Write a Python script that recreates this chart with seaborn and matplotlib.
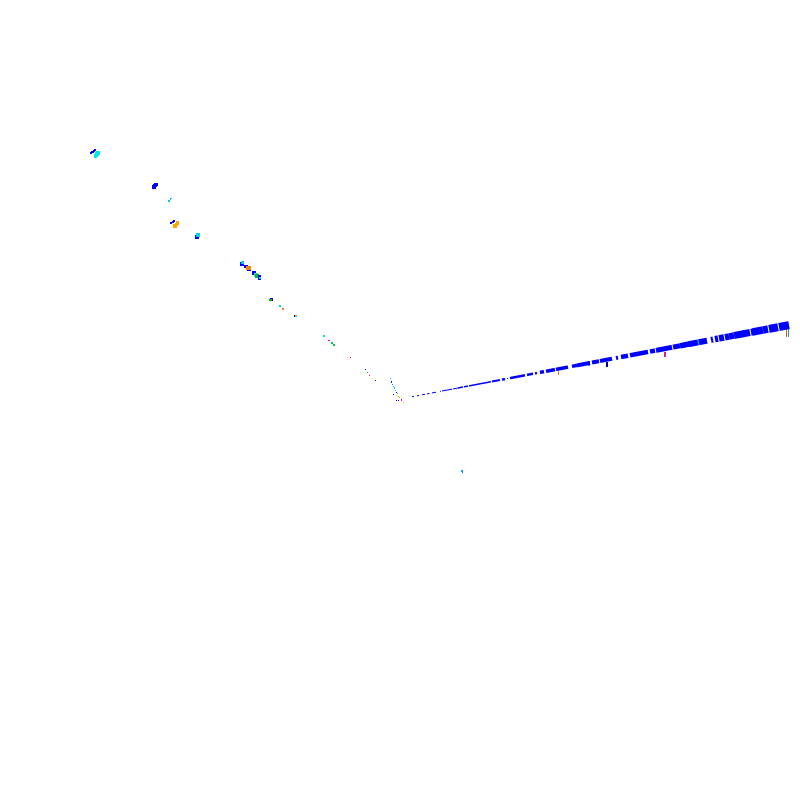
import matplotlib
matplotlib.use("Agg")
import matplotlib.pyplot as plt
import pandas as pd
import seaborn as sns

BLUE = "#0000ff"

# long blue arm, read block by block (start, end, thickness in px)
seg_x0 = [412, 417, 422, 427, 432, 440, 442, 446, 453,
          457.5, 464, 469, 477, 482, 486, 492,
          502, 507, 510, 517, 527, 535,
          540, 546, 556, 572, 577, 592, 600, 616,
          621, 630, 650, 656, 673, 680, 684, 689, 699, 711,
          715, 719, 725, 729, 734, 739, 743, 751, 753, 763, 769, 779]
seg_x1 = [414, 419, 425, 429.5, 436, 441, 446, 452, 457,
          463, 468, 477, 482, 486, 491, 500,
          505, 508, 517, 525, 533, 537,
          544, 555, 568, 577, 590, 599, 612, 618,
          628, 648, 655, 672, 680, 685, 691, 698, 707, 713,
          718, 724, 729, 734, 740, 745, 750, 756, 763, 768, 778, 789]
seg_y0 = [396.7, 395.8, 394.8, 393.9, 392.9, 391.4, 391.0, 390.3, 388.9,
          388.1, 386.8, 385.9, 384.4, 383.4, 382.7, 381.5,
          379.6, 378.7, 378.1, 376.8, 374.9, 373.4,
          372.4, 371.3, 369.4, 366.3, 365.4, 362.5, 361.0, 358.0,
          357.0, 355.3, 351.5, 350.4, 347.1, 345.8, 345.0, 344.1, 342.2, 339.9,
          339.2, 338.4, 337.3, 336.5, 335.5, 334.6, 333.8, 332.3, 331.9, 330.0, 328.9, 327.0]
seg_y1 = [396.3, 395.4, 394.3, 393.4, 392.2, 391.2, 390.3, 389.1, 388.2,
          387.0, 386.1, 384.4, 383.4, 382.7, 381.7, 380.0,
          379.1, 378.5, 376.8, 375.3, 373.7, 373.0,
          371.6, 369.6, 367.1, 365.4, 362.9, 361.2, 358.7, 357.6,
          355.7, 351.9, 350.6, 347.3, 345.8, 344.9, 343.7, 342.4, 340.7, 339.5,
          338.6, 337.4, 336.5, 335.5, 334.4, 333.5, 332.5, 331.4, 330.0, 329.1, 327.2, 325.1]
seg_h = [1, 1, 1, 1, 1, 1, 1, 1, 1,
         1.5, 1.5, 1.5, 1.5, 1.5, 1.5, 2,
         2.5, 1, 2.5, 2.5, 2.5, 2.5,
         3.5, 3.5, 3.5, 3.5, 4, 4, 4, 4,
         4.5, 4.5, 4.5, 5, 5, 5.5, 5.5, 6, 6, 6,
         6.5, 6.5, 6.5, 6.5, 7, 7, 7, 7, 7.5, 7.5, 8, 8]

# small coloured marks on the left arm and around the vertex
pts_x = [91, 92, 93, 94, 95, 96, 97, 98, 95.5, 154, 155, 156, 169, 170.5, 171,
         171, 172.5, 174, 175, 176.5, 177.5, 197, 198,
         242, 242.5, 246, 249, 248.5, 253.5, 255, 256, 257, 259, 259.5, 260,
         271, 270.5, 280, 283, 295, 296, 296,
         324, 329, 332, 334, 350, 365, 367.5, 369, 372.5, 375.5,
         390.5, 391.5, 391.5, 392, 393, 394, 394.5, 395, 396, 393.5, 397, 398, 399,
         401.5, 401, 403, 396.5, 398, 462, 462.5]
pts_y = [153, 152.2, 151.5, 150.8, 150, 155.5, 154, 153, 156, 187, 185.5, 184.5, 201, 199.5, 198.5,
         222.5, 221.5, 220.5, 226, 224.5, 223, 236.5, 235,
         264, 262.5, 266.5, 269, 268, 272.5, 274, 275, 276, 276, 278, 278,
         299.5, 300, 306, 308.5, 315.5, 316, 316.5,
         336, 340.5, 343, 345, 357, 369, 372, 375.5, 378.5, 380.5,
         378.5, 381, 382, 384, 386, 388, 387, 390, 392.5, 394, 393.5, 396, 397,
         399, 400.5, 402, 400.5, 400.5, 471, 472]
pts_d = [2, 2, 2, 2, 2, 3.5, 3.5, 3.5, 3.5, 3.5, 3.5, 3.5, 1.5, 1.5, 1.5,
         2, 2, 2, 3.5, 3.5, 3.5, 4, 4,
         3.5, 2.5, 3.5, 3.5, 4.5, 4, 3, 3.5, 3.5, 3, 3, 2.5,
         3, 2.5, 2, 2, 2, 1.5, 1.5,
         1.5, 1.5, 1.5, 1.5, 1, 1, 1, 1, 1, 1,
         1, 1, 1, 1, 1, 1, 1, 1, 1, 1, 1, 1, 1,
         1, 1, 1, 1, 1, 2, 1.5]
pts_c = [BLUE, BLUE, BLUE, BLUE, BLUE, "#00e5ee", "#00e5ee", "#00e5ee", "#00e5ee", BLUE, BLUE, BLUE,
         "#00c8ff", "#00c8ff", "#00c8ff",
         BLUE, BLUE, BLUE, "#ffa500", "#ffa500", "#ffa500", BLUE, "#00d0e0",
         BLUE, "#00c8ff", BLUE, BLUE, "#f08010", BLUE, "#30e0a0", "#40e080", "#10b050", BLUE, BLUE, "#00d0ff",
         BLUE, "#10b030", "#00d8e8", "#f08020", "#000090", "#ffa500", "#00d8ff",
         "#00e0c0", "#e000c0", "#00c060", "#00c060", "#e00060", "#000090", "#00b020", "#ff2020", "#f0f000", BLUE,
         "#00e0ff", BLUE, "#0040ff", "#0090ff", "#00a0ff", "#00c0ff", "#00d0c0", "#00d0ff", BLUE, BLUE,
         "#30c030", "#a0e000", "#ffa000", "#8000c0", "#ff00ff", "#a0e020", BLUE, BLUE, "#00c0a0", "#0080ff"]

# lighter slivers on the arm and short ticks hanging under it
tick_x = [510, 569, 589, 699, 497, 558.5, 560, 607, 665, 786.5, 788.5]
tick_y = [378, 366, 363, 342, 383, 372.5, 372.5, 364, 354, 332.5, 332.5]
tick_d = [3, 4, 5, 6, 3, 4, 4, 5, 5, 8, 8]
tick_c = ["#00b0ff", "#0090ff", "#00a0ff", "#00c8e8", "#90d000", "#e08000", "#80c000",
          "#000090", "#d020a0", "#f05000", "#00a0f0"]


def draw_marks(ax, xs, ys, ds, cs, marker):
    df = pd.DataFrame({"x": xs, "y": ys, "d": ds, "c": cs})
    sns.scatterplot(data=df, x="x", y="y", hue="c", size="d",
                    palette={c: c for c in set(cs)},
                    sizes={d: (0.72 * d) ** 2 for d in set(ds)},
                    marker=marker, linewidth=0, legend=False, ax=ax)


fig, ax = plt.subplots(figsize=(8, 8), dpi=100)
fig.subplots_adjust(0, 0, 1, 1)

# one row per block end, so each block is its own unit
n = len(seg_x0)
arm = pd.DataFrame({"x": seg_x0 + seg_x1, "y": seg_y0 + seg_y1,
                    "seg": list(range(n)) * 2, "h": seg_h * 2})
sns.lineplot(data=arm, x="x", y="y", units="seg", estimator=None, size="h",
             sizes={h: 0.72 * h for h in set(seg_h)}, color=BLUE, sort=False,
             legend=False, solid_capstyle="butt", ax=ax)

thin = [(-0.22, -1), (0.22, -1), (0.22, 1), (-0.22, 1)]
draw_marks(ax, tick_x, tick_y, tick_d, tick_c, thin)
draw_marks(ax, pts_x, pts_y, pts_d, pts_c, "s")

ax.set_xlim(0, 800)
ax.set_ylim(800, 0)
ax.axis("off")
fig.savefig("out.png", dpi=100)
